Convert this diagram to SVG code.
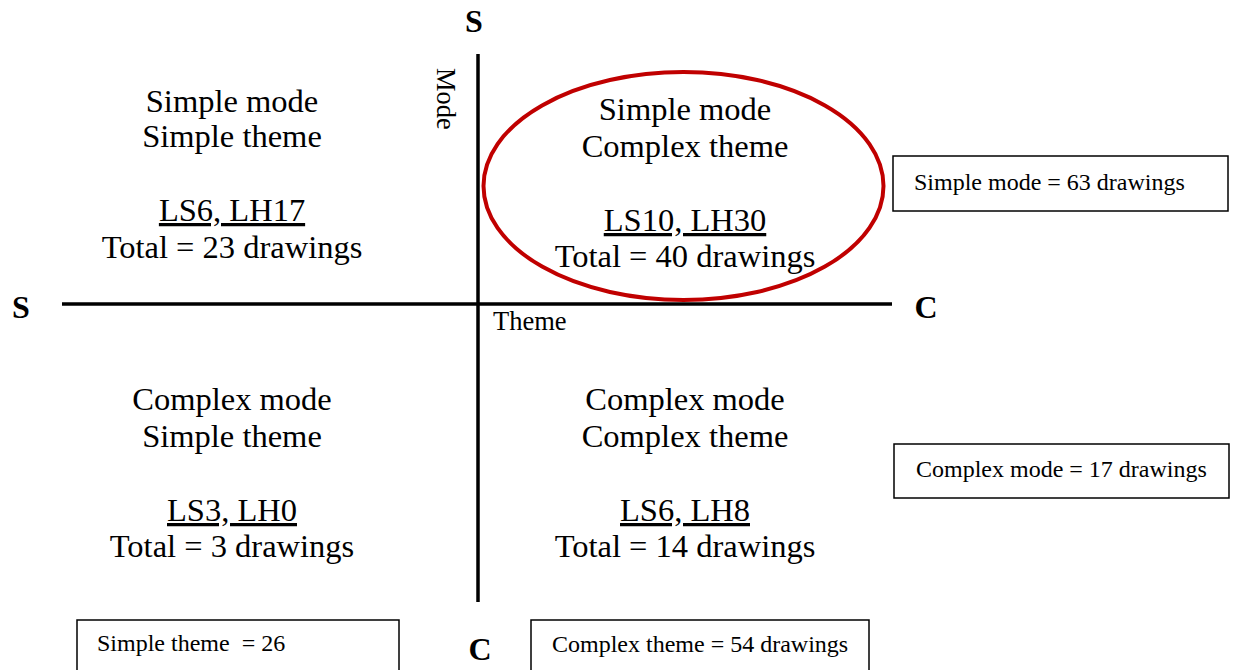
<svg xmlns="http://www.w3.org/2000/svg" width="1237" height="670" viewBox="0 0 1237 670">
<style>
text{font-family:"Liberation Serif","Times New Roman",serif;fill:#000}
.q{font-size:32.5px;text-anchor:middle}
.u{text-decoration:underline;text-decoration-skip-ink:none}
.ax{font-size:32px;font-weight:bold}
.lb{font-size:26.5px}
.bx{font-size:24px}
.box{fill:#fff;stroke:#000;stroke-width:1.5}
.axis{stroke:#000;stroke-width:3.5}
</style>
<rect width="1237" height="670" fill="#fff"/>
<g id="axes">
<line class="axis" x1="478" y1="54" x2="478" y2="602"/>
<line class="axis" x1="62" y1="304" x2="892" y2="304"/>
</g>
<g id="axis-labels">
<text class="ax" x="474" y="32" text-anchor="middle">S</text>
<text class="ax" x="21" y="318" text-anchor="middle">S</text>
<text class="ax" x="926" y="318" text-anchor="middle">C</text>
<text class="ax" x="480" y="660" text-anchor="middle">C</text>
<text class="lb" transform="translate(437,68) rotate(90)">Mode</text>
<text class="lb" x="493" y="330">Theme</text>
</g>
<g id="q-tl">
<text class="q" x="232" y="112">Simple mode</text>
<text class="q" x="232" y="147">Simple theme</text>
<text class="q u" x="232" y="221">LS6, LH17</text>
<text class="q" x="232" y="258">Total = 23 drawings</text>
</g>
<g id="q-tr">
<ellipse cx="683.5" cy="186" rx="200" ry="114" fill="none" stroke="#C00000" stroke-width="4"/>
<text class="q" x="685" y="120">Simple mode</text>
<text class="q" x="685" y="157">Complex theme</text>
<text class="q u" x="685" y="231">LS10, LH30</text>
<text class="q" x="685" y="267">Total = 40 drawings</text>
</g>
<g id="q-bl">
<text class="q" x="232" y="410">Complex mode</text>
<text class="q" x="232" y="447">Simple theme</text>
<text class="q u" x="232" y="521">LS3, LH0</text>
<text class="q" x="232" y="557">Total = 3 drawings</text>
</g>
<g id="q-br">
<text class="q" x="685" y="410">Complex mode</text>
<text class="q" x="685" y="447">Complex theme</text>
<text class="q u" x="685" y="521">LS6, LH8</text>
<text class="q" x="685" y="557">Total = 14 drawings</text>
</g>
<g id="box-simple-mode">
<rect class="box" x="893" y="156" width="335" height="55"/>
<text class="bx" x="914" y="190">Simple mode = 63 drawings</text>
</g>
<g id="box-complex-mode">
<rect class="box" x="894" y="444" width="335" height="54"/>
<text class="bx" x="916" y="477">Complex mode = 17 drawings</text>
</g>
<g id="box-simple-theme">
<rect class="box" x="77" y="620" width="322" height="60"/>
<text class="bx" x="97" y="651" xml:space="preserve">Simple theme  = 26</text>
</g>
<g id="box-complex-theme">
<rect class="box" x="531" y="620" width="338" height="60"/>
<text class="bx" x="552" y="652">Complex theme = 54 drawings</text>
</g>
</svg>
